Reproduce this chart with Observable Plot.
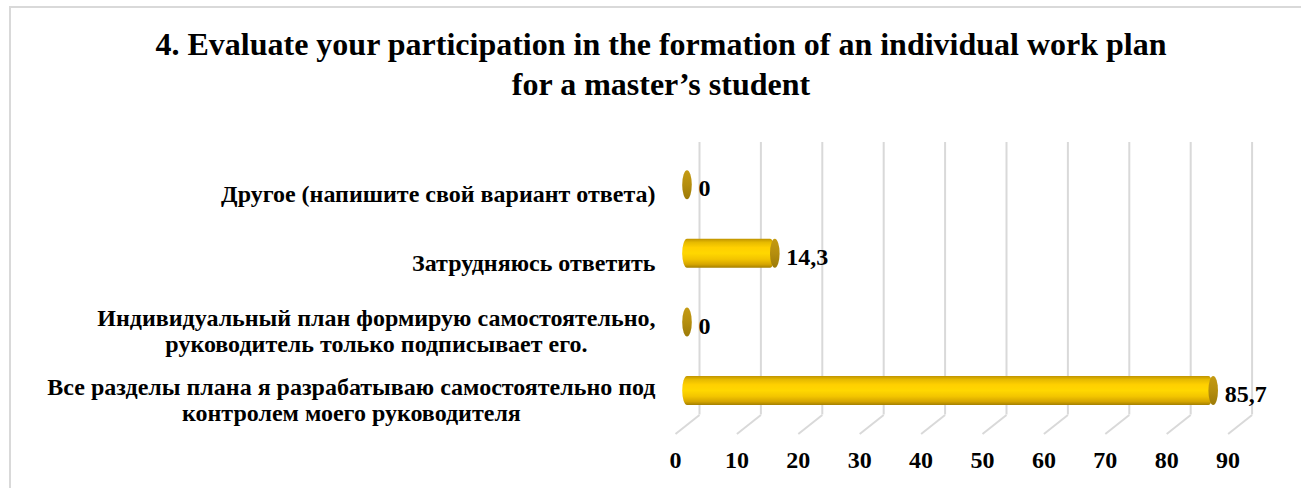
<!DOCTYPE html>
<html>
<head>
<meta charset="utf-8">
<script src="https://cdn.jsdelivr.net/npm/d3@7"></script>
<script src="https://cdn.jsdelivr.net/npm/@observablehq/plot@0.6"></script>
<style>
html, body { margin: 0; padding: 0; background: #fff; overflow: hidden; }
#page { position: relative; width: 1301px; height: 488px; overflow: hidden; }
#border { position: absolute; left: 9px; top: 6px; width: 1400px; height: 600px; border: 2px solid #d9d9d9; box-sizing: border-box; }
#title { position: relative; margin-left: 21px; width: 1280px; height: 112px; box-sizing: border-box; padding-top: 24px;
  text-align: center; font: bold 32px "Liberation Serif", serif; line-height: 40px; color: #000; }
#chart { position: relative; }
#chart svg { display: block; }
</style>
</head>
<body>
<div id="page">
  <div id="border"></div>
  <svg width="0" height="0" style="position:absolute">
    <defs>
      <linearGradient id="cyl" x1="0" y1="0" x2="0" y2="1">
        <stop offset="0" stop-color="#C09400"/>
        <stop offset="0.12" stop-color="#E6BA00"/>
        <stop offset="0.3" stop-color="#FFD000"/>
        <stop offset="0.5" stop-color="#FFD700"/>
        <stop offset="0.7" stop-color="#F3C500"/>
        <stop offset="0.88" stop-color="#D6A600"/>
        <stop offset="1" stop-color="#A47F00"/>
      </linearGradient>
      <linearGradient id="capg" x1="0" y1="0" x2="0" y2="1">
        <stop offset="0" stop-color="#C49A12"/>
        <stop offset="0.5" stop-color="#B58E0E"/>
        <stop offset="1" stop-color="#9C7A08"/>
      </linearGradient>
    </defs>
  </svg>
  <div id="title">4. Evaluate your participation in the formation of an individual work plan<br>for a master’s student</div>
  <div id="chart"></div>
</div>
<script>
const categories = [
  "Другое (напишите свой вариант ответа)",
  "Затрудняюсь ответить",
  "Индивидуальный план формирую самостоятельно,\nруководитель только подписывает его.",
  "Все разделы плана я разрабатываю самостоятельно под\nконтролем моего руководителя"
];
const values = [0, 14.3, 0, 85.7];
const valueLabels = ["0", "14,3", "0", "85,7"];
const xTicks = [0, 10, 20, 30, 40, 50, 60, 70, 80, 90];
const tickLabels = ["0", "10", "20", "30", "40", "50", "60", "70", "80", "90"];

const rows = categories.map((c, i) => ({category: c, i, value: values[i], label: valueLabels[i]}));
const ticks = xTicks.map((t, k) => ({t, label: tickLabels[k]}));

// 3D frame geometry (in data units)
const Y_TOP = -0.484, Y_FLOOR = 3.488;
const DX = 1.954, DY = 0.138;
const HALF = 0.211;
const CAP = 4.8;

const labelFont = 24, labelLH = 26;
const ctx = document.createElement("canvas").getContext("2d");
ctx.font = `bold ${labelFont}px "Liberation Serif"`;
const labelMarks = rows.map(r => {
  const w = d3.max(r.category.split("\n"), s => ctx.measureText(s).width);
  return Plot.text([r], {
    y: "i", text: "category", frameAnchor: "left", textAnchor: "middle",
    dx: -32 - w / 2, dy: 8.5, fontSize: labelFont, fontWeight: "bold",
    lineHeight: labelLH / labelFont, fill: "#000"
  });
});

const grid = "#d9d9d9";
const chart = Plot.plot({
  width: 1301,
  height: 376,
  marginLeft: 687,
  marginRight: 61.4,
  marginTop: 39.5,
  marginBottom: 64,
  style: {fontFamily: "Liberation Serif", background: "transparent", overflow: "visible", color: "#000"},
  x: {domain: [0, 90], axis: null},
  y: {domain: [Y_TOP, Y_FLOOR], reverse: true, axis: null},
  marks: [
    Plot.ruleX(ticks, {x: d => d.t + DX, y1: Y_TOP - DY, y2: Y_FLOOR - DY, stroke: grid, strokeWidth: 2}),
    Plot.link(ticks, {x1: d => d.t + DX, y1: Y_FLOOR - DY, x2: d => d.t - DX, y2: Y_FLOOR + DY, stroke: grid, strokeWidth: 2}),
    Plot.rect(rows.filter(d => d.value > 0), {
      x1: d => 0, x2: d => d.value, y1: d => d.i - HALF, y2: d => d.i + HALF,
      insetLeft: -CAP, rx: CAP, ry: 14.5, fill: "url(#cyl)"
    }),
    Plot.rect(rows, {
      x1: d => d.value, x2: d => d.value, y1: d => d.i - HALF, y2: d => d.i + HALF,
      insetLeft: -CAP, insetRight: -CAP, rx: CAP, ry: 14.5, fill: "url(#capg)"
    }),
    Plot.text(rows, {x: "value", y: "i", text: "label", textAnchor: "start", dx: 11, dy: 3.5,
      fontSize: 24, fontWeight: "bold", fill: "#000"}),
    Plot.text(ticks, {x: d => d.t - DX, y: Y_FLOOR + DY, text: "label", dy: 26.5, lineAnchor: "middle",
      fontSize: 24, fontWeight: "bold", fill: "#000"}),
    ...labelMarks
  ]
});
document.getElementById("chart").appendChild(chart);
</script>
</body>
</html>
